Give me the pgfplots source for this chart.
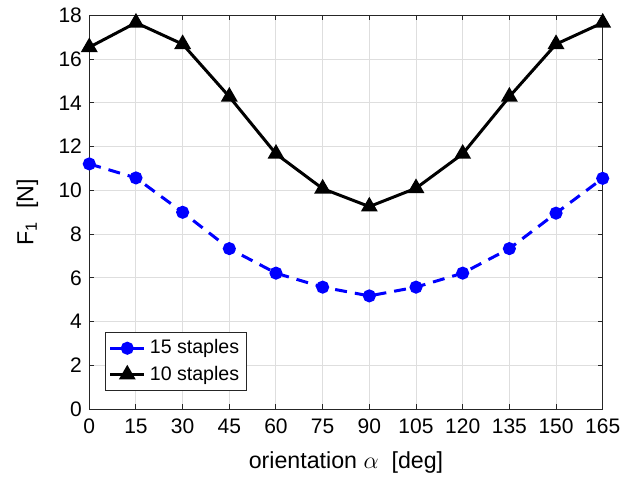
\documentclass[border=0pt]{standalone}
\usepackage{pgfplots}
\pgfplotsset{compat=1.18}
\usepackage{fontspec}
\setmainfont{Liberation Sans}
\definecolor{axgray}{gray}{0.15}
\definecolor{gridgray}{gray}{0.87}
\begin{document}
\fontsize{10.5}{12.5}\selectfont
\begin{tikzpicture}
\begin{axis}[
  name=ax,
  scale only axis,
  width=256.7pt, height=197pt,
  xmin=0, xmax=165, ymin=0, ymax=18,
  xtick={0,15,...,165}, ytick={0,2,...,18},
  grid=major,
  major grid style={line width=0.5pt, draw=gridgray},
  axis line style={line width=0.5pt, draw=axgray},
  tick style={line width=0.5pt, draw=axgray},
  tick align=inside,
  major tick length=2.5pt,
  xtick pos=both, ytick pos=both,
  /pgf/number format/assume math mode=true,
  tick label style={font=\fontsize{10.5}{12.5}\selectfont, text=black},
  xticklabel style={yshift=-1pt},
  label style={font=\fontsize{11.6}{13.5}\selectfont},
  xlabel={orientation $\alpha$\ \ [deg]},
  ylabel={F\textsubscript{1}\ \ [N]},
  xlabel style={yshift=-2pt},
  ylabel style={yshift=3pt},
  legend style={at={(0.031,0.047)}, anchor=south west, draw=axgray, line width=0.5pt,
    font=\fontsize{9.8}{11.5}\selectfont, row sep=0.5pt, inner xsep=1.5pt, inner ysep=1.5pt},
  legend cell align=left,
]
\addplot[blue, line width=1.5pt, dash pattern=on 6pt off 4pt, mark=*, mark size=2.5pt,
  mark options={solid, fill=blue}, legend image post style={solid}]
  coordinates {(0,11.21) (15,10.57) (30,9.0) (45,7.34) (60,6.22) (75,5.58) (90,5.18)
  (105,5.58) (120,6.22) (135,7.34) (150,8.96) (165,10.55)};
\addlegendentry{15 staples}
\addplot[black, line width=1.5pt, mark=triangle*, mark size=3.4pt, mark options={solid, fill=black}]
  coordinates {(0,16.54) (15,17.66) (30,16.68) (45,14.28) (60,11.67) (75,10.08) (90,9.26)
  (105,10.1) (120,11.67) (135,14.28) (150,16.68) (165,17.66)};
\addlegendentry{10 staples}
\end{axis}
\pgfresetboundingbox
\path (ax.south west) ++(-44.65pt,-34.85pt) coordinate (bl);
\path (ax.north east) ++(15.15pt,7.65pt) coordinate (tr);
\path[use as bounding box] (bl) rectangle (tr);
\end{tikzpicture}
\end{document}
